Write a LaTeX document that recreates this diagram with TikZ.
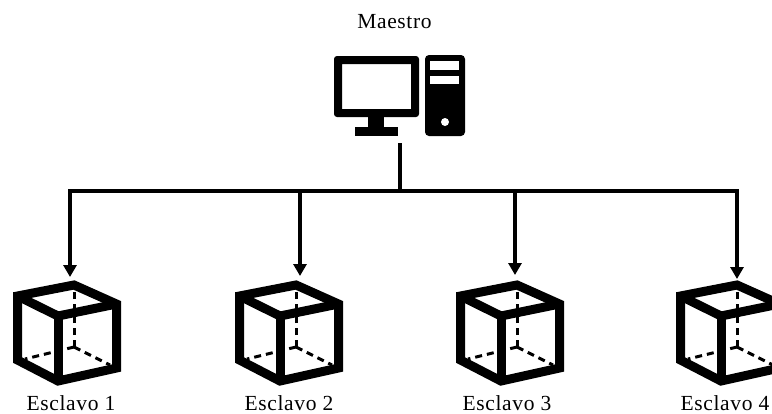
\documentclass[tikz,border=0pt]{standalone}
\usepackage{fontspec}
\setmainfont{Liberation Serif}[LetterSpace=3]
\usetikzlibrary{arrows.meta}
\tikzset{
  x=1pt,y=-1pt,
  label text/.style={font=\fontsize{21.5}{25}\selectfont,inner sep=0pt,anchor=base},
  link/.style={line width=4pt,black},
  arrowlink/.style={link,-{Triangle[length=12pt,width=13pt]}},
  cube solid/.style={line width=9pt,line join=miter,miter limit=4},
  cube dash/.style={line width=3pt,dash pattern=on 7pt off 5pt},
  cube/.pic={
    \draw[cube dash] (74,347) -- (74,288);
    \draw[cube dash] (74,347) -- (25,359);
    \draw[cube dash] (74,347) -- (110,365);
    \draw[cube solid] (74,285) -- (17.5,296) -- (17.5,360) -- (58,381) -- (116.5,368) -- (116.5,304) -- cycle;
    \draw[cube solid] (17.5,296) -- (58,316) -- (116.5,304);
    \draw[cube solid] (58,316) -- (58,381);
  }
}
\begin{document}
\begin{tikzpicture}
\useasboundingbox (0,0) rectangle (772,413);
% computer
\fill[rounded corners=3pt,even odd rule] (334,56) rectangle (419,117) (342,64) [sharp corners] rectangle (411,109);
\fill (368,116) rectangle (384,128);
\fill (355,127) rectangle (398,136);
\fill[rounded corners=4pt] (425,55) rectangle (465,136);
\fill[white] (430,61) rectangle (459,70);
\fill[white] (430,76) rectangle (459,84);
\fill[white] (445,122) circle (4);
% labels
\node[label text] (maestro) at (394.5,28) {Maestro};
\node[label text] (e1) at (71,410.5) {Esclavo 1};
\node[label text] (e2) at (289,410.5) {Esclavo 2};
\node[label text] (e3) at (507,410.5) {Esclavo 3};
\node[label text] (e4) at (725,410.5) {Esclavo 4};
% cubes
\pic at (0,0) {cube};
\pic at (222,0) {cube};
\pic at (443,0) {cube};
\pic at (663,0) {cube};
% connectors
\coordinate (m) at (400,143);
\coordinate (j) at (400,191);
\coordinate (b1) at (70,191);
\coordinate (b2) at (300,191);
\coordinate (b3) at (515,191);
\coordinate (b4) at (737,191);
\coordinate (c1) at (70,277);
\coordinate (c2) at (300,276);
\coordinate (c3) at (515,275);
\coordinate (c4) at (737,279);
\draw[link] (m) -- (j);
\draw[link] ([xshift=-2pt]b1) -- ([xshift=2pt]b4);
\draw[arrowlink] ([yshift=-2pt]b1) -- (c1);
\draw[arrowlink] (b2) -- (c2);
\draw[arrowlink] (b3) -- (c3);
\draw[arrowlink] ([yshift=-2pt]b4) -- (c4);
\end{tikzpicture}
\end{document}
